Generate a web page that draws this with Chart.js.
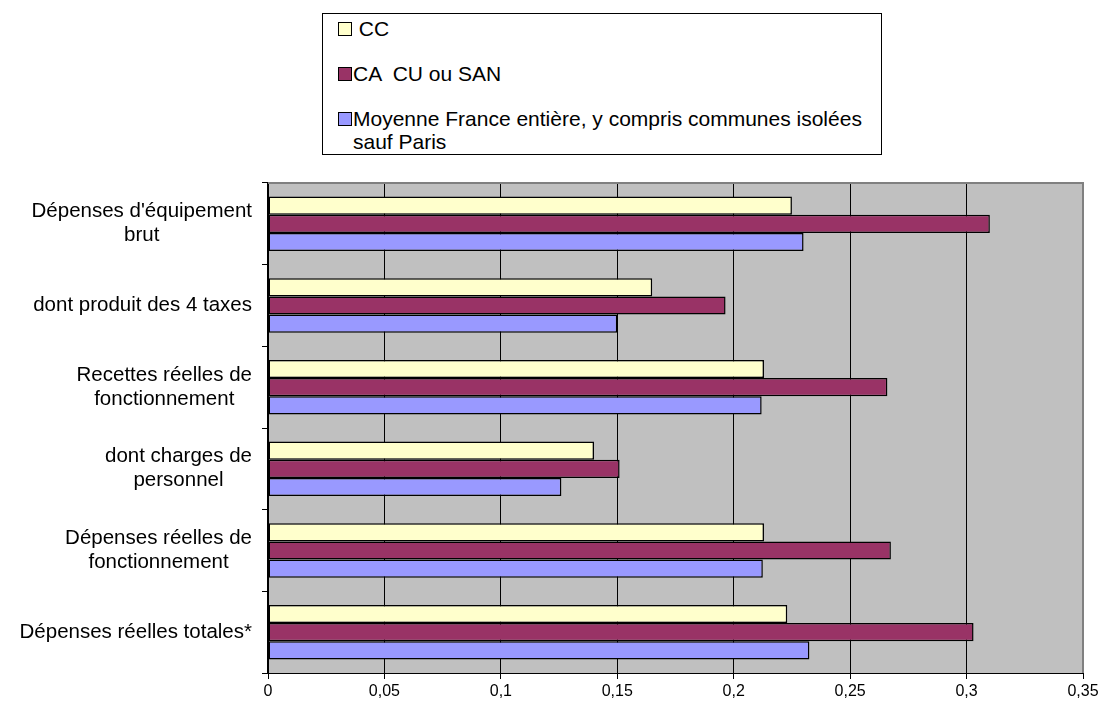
<!DOCTYPE html>
<html>
<head>
<meta charset="utf-8">
<script src="https://cdn.jsdelivr.net/npm/chart.js@4"></script>
<style>
  body { margin: 0; background: #fff; font-family: "Liberation Sans", Arial, sans-serif; }
  #wrap { position: relative; width: 1103px; height: 706px; }
  #legend {
    position: absolute; left: 322px; top: 13px; width: 558px; height: 140px;
    border: 1px solid #000; background: #fff; box-sizing: content-box;
    font-size: 21px; line-height: 23px; color: #000;
  }
  .item { position: absolute; left: 15px; width: 530px; }
  .item .box { position: absolute; left: 0; top: 5px; width: 12px; height: 12px; border: 1px solid #000; }
  .item .txt { margin-left: 15px; white-space: pre-wrap; }
</style>
</head>
<body>
<div id="wrap">
  <canvas id="chart" width="1103" height="706"></canvas>
  <div id="legend"></div>
</div>
<script>
const categories = [
  ["Dépenses d'équipement", "brut"],
  ["dont produit des 4 taxes"],
  ["Recettes réelles de", "fonctionnement"],
  ["dont charges de", "personnel"],
  ["Dépenses réelles de", "fonctionnement"],
  ["Dépenses réelles totales*"]
];
const seriesNames = [' CC', 'CA  CU ou SAN', 'Moyenne France entière, y compris communes isolées sauf Paris'];
const ccValues = [0.225, 0.165, 0.213, 0.140, 0.213, 0.223];
const caValues = [0.310, 0.1965, 0.266, 0.151, 0.2675, 0.303];
const franceValues = [0.230, 0.150, 0.212, 0.126, 0.2125, 0.2325];
const xMax = 0.35;
const xStep = 0.05;

const colors = ['#FFFFCC', '#993366', '#9999FF'];

// fond gris de la zone de tracé
const plotBg = {
  id: 'plotBg',
  beforeDraw(chart) {
    const { ctx, chartArea: a } = chart;
    ctx.save();
    ctx.fillStyle = '#C0C0C0';
    ctx.fillRect(a.left, a.top, a.right - a.left, a.bottom - a.top);
    ctx.restore();
  },
  afterDatasetsDraw(chart) {
    const { ctx, chartArea: a } = chart;
    ctx.save();
    ctx.strokeStyle = '#808080';
    ctx.lineWidth = 2;
    ctx.beginPath();
    ctx.moveTo(a.left, a.top);
    ctx.lineTo(a.right, a.top);
    ctx.lineTo(a.right, a.bottom);
    ctx.stroke();
    ctx.restore();
  }
};

// libellés de catégories : bloc aligné à droite, lignes centrées
const catLabels = {
  id: 'catLabels',
  afterDraw(chart) {
    const { ctx } = chart;
    const y = chart.scales.y;
    ctx.save();
    ctx.font = '20.5px "Liberation Sans", Arial, sans-serif';
    ctx.fillStyle = '#000';
    ctx.textAlign = 'center';
    ctx.textBaseline = 'middle';
    const lh = 24;
    const right = y.right - 16;
    chart.data.labels.forEach((lines, i) => {
      const py = y.getPixelForValue(i);
      const w = Math.max(...lines.map(l => ctx.measureText(l).width));
      const cx = right - w / 2;
      lines.forEach((l, k) => {
        ctx.fillText(l, cx, py + (k - (lines.length - 1) / 2) * lh);
      });
    });
    ctx.restore();
  }
};

const chart = new Chart(document.getElementById('chart'), {
  type: 'bar',
  data: {
    labels: categories,
    datasets: [
      { label: seriesNames[0], data: ccValues, backgroundColor: colors[0] },
      { label: seriesNames[1], data: caValues, backgroundColor: colors[1] },
      { label: seriesNames[2], data: franceValues, backgroundColor: colors[2] }
    ].map(d => Object.assign(d, {
      borderColor: '#000', borderWidth: 1.5, borderSkipped: false,
      categoryPercentage: 3 / 4.5, barPercentage: 1
    }))
  },
  options: {
    indexAxis: 'y',
    responsive: false,
    animation: false,
    devicePixelRatio: 1,
    layout: { padding: { top: 183, right: 20, bottom: 0, left: 0 } },
    plugins: { legend: { display: false }, tooltip: { enabled: false } },
    scales: {
      x: {
        min: 0, max: xMax,
        afterFit(s) { s.height = 33; },
        ticks: {
          stepSize: xStep,
          color: '#000',
          padding: 3,
          font: { family: '"Liberation Sans", Arial, sans-serif', size: 16 },
          callback: v => String(Math.round(v * 100) / 100).replace('.', ',')
        },
        grid: { color: '#000', lineWidth: 1, tickLength: 6 },
        border: { color: '#000', width: 1 }
      },
      y: {
        afterFit(s) { s.width = 268; },
        ticks: { display: false },
        grid: { offset: true, drawOnChartArea: false, color: '#000', tickLength: 6 },
        border: { color: '#000', width: 1.5 }
      }
    }
  },
  plugins: [plotBg, catLabels]
});

// légende encadrée en HTML, construite depuis les jeux de données
const legend = document.getElementById('legend');
const tops = [3, 48, 93];
chart.data.datasets.forEach((d, i) => {
  const item = document.createElement('div');
  item.className = 'item';
  item.style.top = tops[i] + 'px';
  const box = document.createElement('span');
  box.className = 'box';
  box.style.background = d.backgroundColor;
  const txt = document.createElement('div');
  txt.className = 'txt';
  txt.textContent = d.label;
  item.appendChild(box);
  item.appendChild(txt);
  legend.appendChild(item);
});
</script>
</body>
</html>
